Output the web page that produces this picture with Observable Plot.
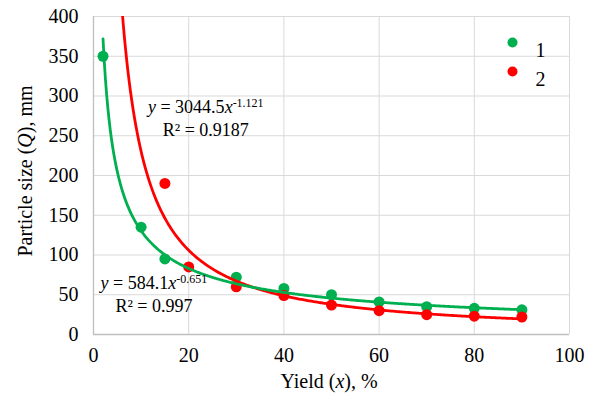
<!DOCTYPE html>
<html>
<head>
<meta charset="utf-8">
<script src="https://cdn.jsdelivr.net/npm/d3@7"></script>
<script src="https://cdn.jsdelivr.net/npm/@observablehq/plot@0.6"></script>
<style>
  html, body { margin: 0; padding: 0; background: #fff; }
  #chart svg { display: block; }
</style>
</head>
<body>
<div id="chart"></div>
<script>
// ---- data ----
const xSeries1 = [2, 10, 15, 30, 40, 50, 60, 70, 80, 90];
const ySeries1 = [350, 135, 95, 72, 58, 50, 41, 35, 33, 31];
const xSeries2 = [15, 20, 30, 40, 50, 60, 70, 80, 90];
const ySeries2 = [190, 85, 60, 49, 37, 30, 25, 23, 22];

// power trendlines as shown on the chart: y = a * x^b
const trendNames = ["1", "2"];
const trendA = [584.1, 3044.5];
const trendB = [-0.651, -1.121];
const trendR2 = ["0.997", "0.9187"];
const trendRange = [[2, 90], [2, 90]];
// label anchors (data coordinates) for the trendline equations
const labelX = [12.8, 23.7];
const labelY = [56.5, 278.5];

const seriesNames = ["1", "2"];
const seriesColors = ["#00b050", "#ff0000"];

const xTicks = [0, 20, 40, 60, 80, 100];
const yTicks = [0, 50, 100, 150, 200, 250, 300, 350, 400];

// ---- build tables ----
const pts1 = xSeries1.map((x, i) => ({x, y: ySeries1[i]}));
const pts2 = xSeries2.map((x, i) => ({x, y: ySeries2[i]}));
const trendCurves = trendNames.map((name, k) => {
  const [x0, x1] = trendRange[k];
  const pts = [];
  for (let x = x0; x <= x1 + 1e-9; x += 0.25) pts.push({x, y: trendA[k] * Math.pow(x, trendB[k])});
  return pts;
});

const FONT = "'Liberation Serif', 'Times New Roman', serif";
const W = 595, H = 394;
const chart = Plot.plot({
  width: W, height: H,
  marginLeft: 93, marginRight: 26, marginTop: 16, marginBottom: 60,
  style: {fontFamily: FONT, fontSize: "20px", color: "#000", background: "#fff"},
  x: {domain: [0, 100], ticks: xTicks, label: null},
  y: {domain: [0, 400], ticks: yTicks, label: null},
  marks: [
    Plot.gridX(xTicks, {stroke: "#d9d9d9", strokeOpacity: 1, strokeWidth: 1}),
    Plot.gridY(yTicks, {stroke: "#d9d9d9", strokeOpacity: 1, strokeWidth: 1}),
    Plot.ruleX([0], {stroke: "#bfbfbf", strokeWidth: 1.3}),
    Plot.ruleY([0], {stroke: "#bfbfbf", strokeWidth: 1.3}),
    Plot.axisX(xTicks, {tickSize: 0, tickPadding: 13, fontSize: 20, fill: "#000", fontFamily: FONT}),
    Plot.axisY(yTicks, {tickSize: 0, tickPadding: 15, fontSize: 20, fill: "#000", fontFamily: FONT}),
    Plot.dot(pts1, {x: "x", y: "y", r: 5.5, fill: seriesColors[0], stroke: "none"}),
    Plot.dot(pts2, {x: "x", y: "y", r: 5.5, fill: seriesColors[1], stroke: "none"}),
    Plot.line(trendCurves[1], {x: "x", y: "y", stroke: seriesColors[1], strokeWidth: 2.8, clip: true, curve: "linear"}),
    Plot.line(trendCurves[0], {x: "x", y: "y", stroke: seriesColors[0], strokeWidth: 2.8, clip: true, curve: "linear"}),
    // legend
    ...seriesNames.map((name, i) => Plot.dot([name], {frameAnchor: "top-right", dx: -57, dy: 26 + i * 29, r: 5, fill: seriesColors[i], stroke: "none"})),
    ...seriesNames.map((name, i) => Plot.text([name], {text: d => d, frameAnchor: "top-right", dx: -34, dy: 26 + i * 29, textAnchor: "start", fontSize: 20, fill: "#000", fontFamily: FONT}))
  ]
});

document.getElementById("chart").appendChild(chart);

// rich-text labels (italic letters, superscripts) placed through Plot's scales
const sx = chart.scale("x"), sy = chart.scale("y");
const svg = d3.select(chart);
const g = svg.append("g").attr("font-family", FONT).attr("fill", "#000");

trendNames.forEach((name, k) => {
  const cx = sx.apply(labelX[k]), cy = sy.apply(labelY[k]);
  const t1 = g.append("text").attr("x", cx).attr("y", cy).attr("text-anchor", "middle").attr("font-size", 18);
  t1.append("tspan").attr("font-style", "italic").text("y");
  t1.append("tspan").text(" = " + trendA[k]);
  t1.append("tspan").attr("font-style", "italic").text("x");
  t1.append("tspan").attr("font-size", 12).attr("dy", -6).text(String(trendB[k]));
  g.append("text").attr("x", cx).attr("y", cy + 23).attr("text-anchor", "middle").attr("font-size", 18)
    .text("R² = " + trendR2[k]);
});

// axis titles
const xt = g.append("text").attr("x", (sx.range[0] + sx.range[1]) / 2 - 2).attr("y", 388)
  .attr("text-anchor", "middle").attr("font-size", 20);
xt.append("tspan").text("Yield (");
xt.append("tspan").attr("font-style", "italic").text("x");
xt.append("tspan").text("), %");

const yt = g.append("text").attr("transform", `translate(32,${(sy.range[0] + sy.range[1]) / 2 - 4}) rotate(-90)`)
  .attr("text-anchor", "middle").attr("font-size", 20);
yt.append("tspan").text("Particle size (");
yt.append("tspan").attr("font-style", "italic").text("Q");
yt.append("tspan").text("), mm");
</script>
</body>
</html>
